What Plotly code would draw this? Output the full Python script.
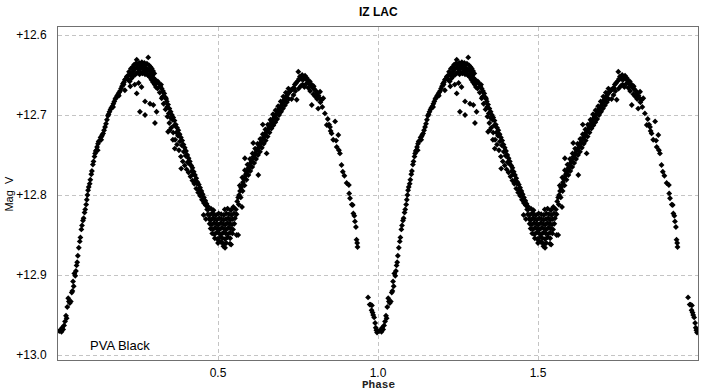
import plotly.graph_objects as go

# ---- light-curve data (phase 0..1), grouped by branch ----
egress_phase = [0.004, 0.008, 0.011, 0.013, 0.016, 0.019, 0.022, 0.025, 0.027, 0.029,
                0.032, 0.034, 0.037, 0.040, 0.043, 0.045, 0.047, 0.049, 0.051, 0.054,
                0.056, 0.058, 0.060, 0.062]
egress_mag = [12.970, 12.969, 12.971, 12.966, 12.968, 12.963, 12.958, 12.951, 12.954, 12.940,
              12.929, 12.933, 12.935, 12.933, 12.922, 12.920, 12.908, 12.914, 12.898, 12.901,
              12.895, 12.888, 12.884, 12.876]

rise1_phase = [0.065, 0.068, 0.070, 0.073, 0.075, 0.078, 0.080, 0.083, 0.085, 0.088,
               0.090, 0.092, 0.094, 0.096, 0.099, 0.101, 0.104, 0.106, 0.109, 0.111,
               0.114, 0.116, 0.118, 0.120, 0.122, 0.125, 0.127, 0.130, 0.133, 0.136,
               0.138, 0.141, 0.144, 0.147, 0.150, 0.153, 0.156, 0.158, 0.161, 0.164,
               0.167, 0.170, 0.173, 0.176, 0.179, 0.182, 0.185, 0.188, 0.191, 0.194,
               0.197, 0.200, 0.203, 0.206, 0.209, 0.212, 0.215, 0.218,
               0.124, 0.135, 0.172, 0.190, 0.205]
rise1_mag = [12.866, 12.858, 12.853, 12.843, 12.838, 12.832, 12.829, 12.822, 12.818, 12.812,
             12.806, 12.800, 12.794, 12.790, 12.786, 12.781, 12.774, 12.770, 12.762, 12.758,
             12.752, 12.748, 12.745, 12.744, 12.740, 12.736, 12.733, 12.732, 12.728, 12.727,
             12.725, 12.723, 12.719, 12.715, 12.711, 12.706, 12.701, 12.699, 12.696, 12.693,
             12.691, 12.689, 12.686, 12.683, 12.680, 12.678, 12.676, 12.674, 12.672, 12.670,
             12.667, 12.664, 12.661, 12.659, 12.656, 12.655, 12.652, 12.651,
             12.744, 12.731, 12.690, 12.676, 12.662]

max1_phase = [0.222, 0.228, 0.233, 0.238, 0.243, 0.246, 0.250, 0.254, 0.258, 0.262,
              0.266, 0.270, 0.274, 0.278, 0.282, 0.285, 0.289, 0.293, 0.297, 0.301,
              0.220, 0.226, 0.231, 0.236, 0.241, 0.247, 0.252, 0.257, 0.261, 0.265,
              0.269, 0.273, 0.277, 0.281, 0.286, 0.290, 0.295, 0.299, 0.304, 0.308,
              0.224, 0.230, 0.235, 0.240, 0.245, 0.250, 0.255, 0.260, 0.264, 0.268,
              0.272, 0.276, 0.280, 0.284, 0.288, 0.292, 0.297, 0.302, 0.306, 0.311,
              0.209, 0.240, 0.246, 0.256, 0.261, 0.272, 0.272, 0.2875, 0.298, 0.303,
              0.308, 0.252, 0.226]
max1_mag = [12.646, 12.642, 12.640, 12.637, 12.636, 12.631, 12.637, 12.635, 12.638, 12.634,
            12.636, 12.635, 12.637, 12.636, 12.628, 12.638, 12.640, 12.642, 12.645, 12.648,
            12.656, 12.650, 12.648, 12.645, 12.642, 12.641, 12.643, 12.642, 12.640, 12.642,
            12.641, 12.643, 12.642, 12.644, 12.645, 12.648, 12.651, 12.654, 12.656, 12.660,
            12.658, 12.654, 12.651, 12.650, 12.648, 12.647, 12.649, 12.647, 12.648, 12.646,
            12.649, 12.648, 12.650, 12.651, 12.653, 12.656, 12.659, 12.662, 12.665, 12.667,
            12.669, 12.662, 12.673, 12.696, 12.665, 12.683, 12.700, 12.686, 12.6875, 12.710,
            12.696, 12.660, 12.664]

fall1_phase = [0.312, 0.316, 0.320, 0.324, 0.328, 0.332, 0.336, 0.340, 0.344, 0.348,
               0.352, 0.356, 0.360, 0.364, 0.368, 0.372, 0.376, 0.380, 0.384, 0.388,
               0.392, 0.396, 0.400, 0.404, 0.408, 0.412, 0.416, 0.420, 0.424, 0.428,
               0.432, 0.436, 0.440, 0.444, 0.448, 0.452, 0.456, 0.460, 0.464, 0.468,
               0.318, 0.324, 0.330, 0.336, 0.342, 0.348, 0.354, 0.360, 0.366, 0.372,
               0.378, 0.384, 0.390, 0.396, 0.402, 0.408, 0.414, 0.420, 0.426, 0.432,
               0.438, 0.444, 0.450, 0.456, 0.462,
               0.322, 0.338, 0.346, 0.358, 0.370, 0.381, 0.393, 0.405, 0.418, 0.430,
               0.442, 0.454, 0.466, 0.385, 0.344, 0.365, 0.349, 0.359,
               0.327, 0.341, 0.353, 0.363, 0.375, 0.387, 0.399, 0.411, 0.423, 0.435,
               0.447, 0.459]
fall1_mag = [12.658, 12.661, 12.664, 12.667, 12.670, 12.673, 12.678, 12.683, 12.687, 12.692,
             12.696, 12.700, 12.703, 12.707, 12.712, 12.716, 12.719, 12.724, 12.728, 12.732,
             12.737, 12.741, 12.745, 12.750, 12.754, 12.758, 12.763, 12.766, 12.771, 12.775,
             12.779, 12.784, 12.787, 12.791, 12.795, 12.799, 12.803, 12.807, 12.811, 12.814,
             12.672, 12.679, 12.686, 12.693, 12.702, 12.710, 12.716, 12.722, 12.731, 12.737,
             12.744, 12.752, 12.758, 12.763, 12.768, 12.772, 12.777, 12.782, 12.786, 12.792,
             12.797, 12.801, 12.806, 12.810, 12.813,
             12.662, 12.680, 12.698, 12.706, 12.722, 12.733, 12.746, 12.759, 12.770, 12.782,
             12.794, 12.806, 12.818, 12.767, 12.721, 12.742, 12.719, 12.731,
             12.677, 12.690, 12.704, 12.713, 12.726, 12.738, 12.751, 12.761, 12.774, 12.786,
             12.797, 12.808]

min2_phase = [0.470, 0.478, 0.486, 0.521, 0.530, 0.540, 0.548, 0.556,
              0.468, 0.474, 0.481, 0.487, 0.494, 0.502, 0.510, 0.518, 0.526, 0.534, 0.542, 0.550, 0.558,
              0.472, 0.478, 0.484, 0.490, 0.497, 0.504, 0.511, 0.518, 0.525, 0.532, 0.539, 0.546, 0.553,
              0.474, 0.481, 0.488, 0.495, 0.502, 0.509, 0.516, 0.523, 0.530, 0.537, 0.544, 0.551,
              0.477, 0.484, 0.491, 0.498, 0.505, 0.512, 0.519, 0.526, 0.533, 0.540, 0.547,
              0.482, 0.489, 0.496, 0.503, 0.510, 0.517, 0.524, 0.531, 0.538, 0.545,
              0.490, 0.498, 0.506, 0.514, 0.522, 0.530, 0.538,
              0.500, 0.510, 0.518, 0.526,
              0.522, 0.5375, 0.541, 0.563, 0.517, 0.504, 0.455, 0.462]
min2_mag = [12.818, 12.817, 12.819, 12.818, 12.817, 12.819, 12.816, 12.818,
            12.824, 12.825, 12.823, 12.824, 12.825, 12.823, 12.824, 12.825, 12.823, 12.824, 12.825, 12.823, 12.824,
            12.830, 12.831, 12.829, 12.830, 12.831, 12.829, 12.830, 12.831, 12.830, 12.829, 12.831, 12.830, 12.829,
            12.836, 12.837, 12.835, 12.836, 12.837, 12.835, 12.836, 12.837, 12.835, 12.836, 12.837, 12.836,
            12.842, 12.843, 12.841, 12.842, 12.843, 12.841, 12.842, 12.843, 12.841, 12.842, 12.843,
            12.848, 12.849, 12.847, 12.848, 12.849, 12.847, 12.848, 12.849, 12.847, 12.848,
            12.854, 12.855, 12.853, 12.854, 12.855, 12.853, 12.854,
            12.860, 12.859, 12.861, 12.860,
            12.866, 12.861, 12.862, 12.850, 12.864, 12.858, 12.825, 12.830]

rise2_phase = [0.560, 0.563, 0.566, 0.569, 0.572, 0.575, 0.578, 0.581, 0.584, 0.587,
               0.590, 0.593, 0.596, 0.599, 0.602, 0.605, 0.608, 0.611, 0.614, 0.617,
               0.620, 0.623, 0.626, 0.629, 0.632, 0.635, 0.638, 0.641, 0.644, 0.647,
               0.650, 0.653, 0.656, 0.659, 0.662, 0.665, 0.668, 0.671, 0.674, 0.677,
               0.680, 0.683, 0.686, 0.689, 0.692, 0.695, 0.698, 0.701, 0.704, 0.707,
               0.710, 0.713, 0.716, 0.719, 0.722, 0.725, 0.728, 0.731, 0.734, 0.737,
               0.565, 0.571, 0.577, 0.583, 0.589, 0.595, 0.601, 0.607, 0.613, 0.619,
               0.625, 0.631, 0.637, 0.643, 0.649, 0.655, 0.661, 0.667, 0.673, 0.679,
               0.685, 0.691, 0.697, 0.703, 0.709, 0.715, 0.721,
               0.568, 0.576, 0.584, 0.592, 0.600, 0.608, 0.616, 0.624, 0.632, 0.640,
               0.648, 0.656, 0.664, 0.672, 0.680, 0.688, 0.696, 0.704, 0.712, 0.720,
               0.584, 0.610, 0.652, 0.626, 0.558, 0.548, 0.575, 0.640]
rise2_mag = [12.808, 12.803, 12.800, 12.795, 12.791, 12.788, 12.784, 12.780, 12.777, 12.774,
             12.771, 12.768, 12.766, 12.763, 12.760, 12.758, 12.755, 12.752, 12.750, 12.748,
             12.745, 12.743, 12.741, 12.738, 12.736, 12.734, 12.731, 12.729, 12.727, 12.725,
             12.722, 12.720, 12.718, 12.715, 12.713, 12.711, 12.708, 12.706, 12.704, 12.702,
             12.700, 12.698, 12.696, 12.694, 12.692, 12.690, 12.688, 12.685, 12.683, 12.681,
             12.679, 12.677, 12.675, 12.673, 12.672, 12.670, 12.669, 12.668, 12.667, 12.666,
             12.812, 12.803, 12.795, 12.788, 12.781, 12.775, 12.770, 12.765, 12.760, 12.755,
             12.750, 12.746, 12.741, 12.736, 12.732, 12.727, 12.722, 12.717, 12.713, 12.709,
             12.705, 12.700, 12.696, 12.692, 12.688, 12.684, 12.680,
             12.788, 12.778, 12.769, 12.762, 12.755, 12.748, 12.742, 12.736, 12.730, 12.724,
             12.718, 12.712, 12.706, 12.699, 12.694, 12.689, 12.683, 12.677, 12.672, 12.667,
             12.754, 12.735, 12.748, 12.775, 12.850, 12.815, 12.815, 12.712]

max2_phase = [0.740, 0.744, 0.748, 0.751, 0.753, 0.756, 0.760, 0.763, 0.766, 0.769,
              0.772, 0.775, 0.778, 0.781, 0.784, 0.787, 0.790, 0.793, 0.796, 0.799,
              0.802, 0.805, 0.808, 0.811, 0.814, 0.817,
              0.746, 0.752, 0.758, 0.764, 0.770, 0.776, 0.782, 0.788, 0.793, 0.798,
              0.804, 0.810, 0.813, 0.820, 0.824, 0.742, 0.736, 0.730, 0.819]
max2_mag = [12.662, 12.660, 12.658, 12.646, 12.655, 12.652, 12.655, 12.650, 12.656, 12.652,
            12.651, 12.655, 12.654, 12.657, 12.660, 12.658, 12.663, 12.662, 12.666, 12.664,
            12.668, 12.670, 12.673, 12.672, 12.676, 12.679,
            12.681, 12.667, 12.664, 12.662, 12.665, 12.661, 12.666, 12.670, 12.6875, 12.674,
            12.677, 12.680, 12.692, 12.684, 12.681, 12.670, 12.675, 12.680, 12.671]

fall2_phase = [0.826, 0.829, 0.834, 0.840, 0.843, 0.847, 0.850, 0.855, 0.860, 0.866,
               0.871, 0.876, 0.881, 0.886, 0.890, 0.895, 0.902, 0.909, 0.910, 0.9125,
               0.918, 0.921, 0.923, 0.926, 0.928, 0.931, 0.933, 0.935, 0.936, 0.869,
               0.852, 0.878]
fall2_mag = [12.690, 12.679, 12.698, 12.7125, 12.705, 12.712, 12.715, 12.723, 12.731, 12.708,
             12.740, 12.725, 12.748, 12.7625, 12.771, 12.776, 12.785, 12.7875, 12.798, 12.804,
             12.812, 12.8125, 12.823, 12.826, 12.833, 12.840, 12.856, 12.860, 12.865, 12.732,
             12.720, 12.744]

ingress_phase = [0.969, 0.974, 0.977, 0.981, 0.980, 0.983, 0.985, 0.988, 0.991, 0.993,
                 0.995, 0.997, 0.999]
ingress_mag = [12.928, 12.937, 12.937, 12.938, 12.944, 12.947, 12.950, 12.953, 12.960, 12.966,
               12.969, 12.972, 12.970]

y_ticks = [12.6, 12.7, 12.8, 12.9, 13.0]
y_tick_labels = ["+12.6", "+12.7", "+12.8", "+12.9", "+13.0"]
x_ticks = [0.5, 1.0, 1.5]
x_tick_labels = ["0.5", "1.0", "1.5"]

phase = (egress_phase + rise1_phase + max1_phase + fall1_phase + min2_phase
         + rise2_phase + max2_phase + fall2_phase + ingress_phase)
mag = (egress_mag + rise1_mag + max1_mag + fall1_mag + min2_mag
       + rise2_mag + max2_mag + fall2_mag + ingress_mag)

# the phase plot shows two cycles of the same observations
x_all = phase + [p + 1 for p in phase]
y_all = mag + mag

fig = go.Figure()
fig.add_trace(go.Scatter(
    x=x_all, y=y_all, mode="markers",
    marker=dict(symbol="diamond", size=4.5, color="black", line=dict(width=0)),
    hoverinfo="skip", showlegend=False,
))

grid = dict(showgrid=True, gridcolor="#c4c4c4", gridwidth=1, griddash="4px,3px",
            zeroline=False, showline=True, linecolor="#707070", linewidth=1,
            mirror=True)

fig.update_layout(
    width=705, height=391,
    margin=dict(l=58, r=7, t=27, b=31, autoexpand=False),
    paper_bgcolor="white", plot_bgcolor="white",
    font=dict(family="Liberation Sans, Arial, sans-serif", size=12, color="black"),
    xaxis=dict(range=[0, 2], tickvals=x_ticks, ticktext=x_tick_labels,
               ticks="outside", ticklen=2, tickcolor="rgba(0,0,0,0)", **grid),
    yaxis=dict(range=[13.00625, 12.59], tickvals=y_ticks, ticktext=y_tick_labels,
               ticks="outside", ticklen=8, tickcolor="rgba(0,0,0,0)", **grid),
)

fig.add_annotation(text="<b>IZ LAC</b>", xref="paper", yref="paper", x=0.5, y=1.045,
                   xanchor="center", yanchor="middle", showarrow=False,
                   font=dict(size=12, family="Liberation Sans, Arial, sans-serif"))
fig.add_annotation(text="Mag  V", xref="paper", yref="paper", x=-0.078, y=0.5,
                   xanchor="center", yanchor="middle", textangle=-90, showarrow=False,
                   font=dict(size=11, family="Liberation Sans, Arial, sans-serif"))
fig.add_annotation(text="<b>Phase</b>", xref="paper", yref="paper", x=0.5, y=-0.075,
                   xanchor="center", yanchor="middle", showarrow=False,
                   font=dict(size=11, family="Liberation Mono, Courier New, monospace",
                             color="#222222"))
fig.add_annotation(text="PVA Black", xref="x", yref="y", x=0.094, y=12.9875,
                   xanchor="left", yanchor="middle", showarrow=False,
                   font=dict(size=13, family="Liberation Sans, Arial, sans-serif"))

fig.write_html("out.html", config={"displayModeBar": False},
               post_script="document.body.style.margin='0';document.body.style.overflow='hidden';")
